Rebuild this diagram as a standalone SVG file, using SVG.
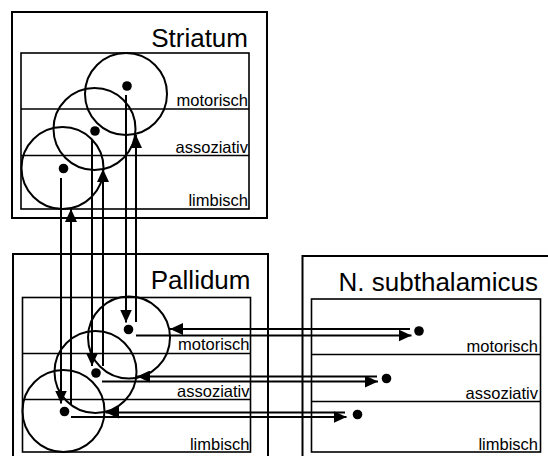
<svg xmlns="http://www.w3.org/2000/svg" width="548" height="456" viewBox="0 0 548 456">
  <defs>
    <marker id="arrow" markerUnits="userSpaceOnUse" markerWidth="13" markerHeight="12" refX="13" refY="6" orient="auto">
      <path d="M0,0 L13,6 L0,12 z" fill="#000"/>
    </marker>
  </defs>
  <style>
    .outer { fill: #fff; stroke: #000; stroke-width: 2; }
    .inner { fill: none; stroke: #000; stroke-width: 1.6; }
    .sep { stroke: #000; stroke-width: 1.6; }
    .field { fill: none; stroke: #000; stroke-width: 2; }
    .dot { fill: #000; }
    .title { font-family: "Liberation Sans", Arial, sans-serif; font-size: 26px; text-anchor: end; fill: #000; }
    .lbl { font-family: "Liberation Sans", Arial, sans-serif; font-size: 16.5px; text-anchor: end; fill: #000; }
    .conn { stroke: #000; stroke-width: 2; fill: none; }
    .arr { marker-end: url(#arrow); }
  </style>

  <!-- Striatum -->
  <g id="striatum">
    <rect class="outer" x="12" y="12" width="255" height="206"/>
    <text class="title" x="248" y="47">Striatum</text>
    <rect class="inner" x="21" y="53" width="228" height="156"/>
    <line class="sep" x1="21" y1="109" x2="249" y2="109"/>
    <line class="sep" x1="21" y1="155.5" x2="249" y2="155.5"/>
    <text class="lbl" x="248" y="106">motorisch</text>
    <text class="lbl" x="248" y="152.5">assoziativ</text>
    <text class="lbl" x="248" y="206">limbisch</text>
    <circle class="field" cx="126" cy="94" r="41"/>
    <circle class="field" cx="94.5" cy="129" r="41"/>
    <circle class="field" cx="62.5" cy="168" r="41"/>
    <circle class="dot" cx="127" cy="86" r="4.8"/>
    <circle class="dot" cx="95" cy="131" r="4.8"/>
    <circle class="dot" cx="63.5" cy="168.5" r="4.8"/>
  </g>

  <!-- Pallidum -->
  <g id="pallidum">
    <rect class="outer" x="13" y="254" width="255" height="210"/>
    <text class="title" x="250.5" y="288.5">Pallidum</text>
    <rect class="inner" x="22.5" y="297.5" width="228" height="154.5"/>
    <line class="sep" x1="22.5" y1="353.5" x2="250.5" y2="353.5"/>
    <line class="sep" x1="22.5" y1="399.5" x2="250.5" y2="399.5"/>
    <text class="lbl" x="249.5" y="350">motorisch</text>
    <text class="lbl" x="249.5" y="396.5">assoziativ</text>
    <text class="lbl" x="249.5" y="449.5">limbisch</text>
    <circle class="field" cx="129" cy="337.5" r="41"/>
    <circle class="field" cx="95.5" cy="372" r="41"/>
    <circle class="field" cx="63.5" cy="411" r="41"/>
    <circle class="dot" cx="128.5" cy="329.5" r="4.8"/>
    <circle class="dot" cx="96" cy="373" r="4.8"/>
    <circle class="dot" cx="64.5" cy="411.5" r="4.8"/>
  </g>

  <!-- Nucleus subthalamicus -->
  <g id="subthalamicus">
    <rect class="outer" x="302.5" y="256" width="260" height="210"/>
    <text class="title" x="538" y="291">N. subthalamicus</text>
    <rect class="inner" x="311.5" y="299" width="229" height="153"/>
    <line class="sep" x1="311.5" y1="354.5" x2="540.5" y2="354.5"/>
    <line class="sep" x1="311.5" y1="401.5" x2="540.5" y2="401.5"/>
    <text class="lbl" x="538" y="352">motorisch</text>
    <text class="lbl" x="538" y="398.5">assoziativ</text>
    <text class="lbl" x="538" y="450">limbisch</text>
    <circle class="dot" cx="419" cy="331" r="4.8"/>
    <circle class="dot" cx="386.5" cy="378.5" r="4.8"/>
    <circle class="dot" cx="357.5" cy="414.5" r="4.8"/>
  </g>

  <!-- Projections -->
  <g id="connectors">
    <!-- Striatum to Pallidum -->
    <line class="conn arr" x1="126" y1="95" x2="126" y2="322.5"/>
    <line class="conn arr" x1="92" y1="140" x2="92" y2="366"/>
    <line class="conn arr" x1="61" y1="178" x2="61" y2="403.5"/>
    <!-- Pallidum to Striatum -->
    <line class="conn arr" x1="136" y1="322" x2="136" y2="135"/>
    <line class="conn arr" x1="103" y1="366" x2="103" y2="169"/>
    <line class="conn arr" x1="71" y1="404" x2="71" y2="209"/>
    <!-- Subthalamicus to Pallidum -->
    <line class="conn arr" x1="410" y1="329" x2="170" y2="329"/>
    <line class="conn arr" x1="377" y1="376.5" x2="137" y2="376.5"/>
    <line class="conn arr" x1="345" y1="412.5" x2="106" y2="412.5"/>
    <!-- Pallidum to Subthalamicus -->
    <line class="conn arr" x1="136" y1="335.5" x2="411.5" y2="335.5"/>
    <line class="conn arr" x1="102" y1="381.5" x2="378" y2="381.5"/>
    <line class="conn arr" x1="71" y1="417" x2="346.5" y2="417"/>
  </g>
</svg>
